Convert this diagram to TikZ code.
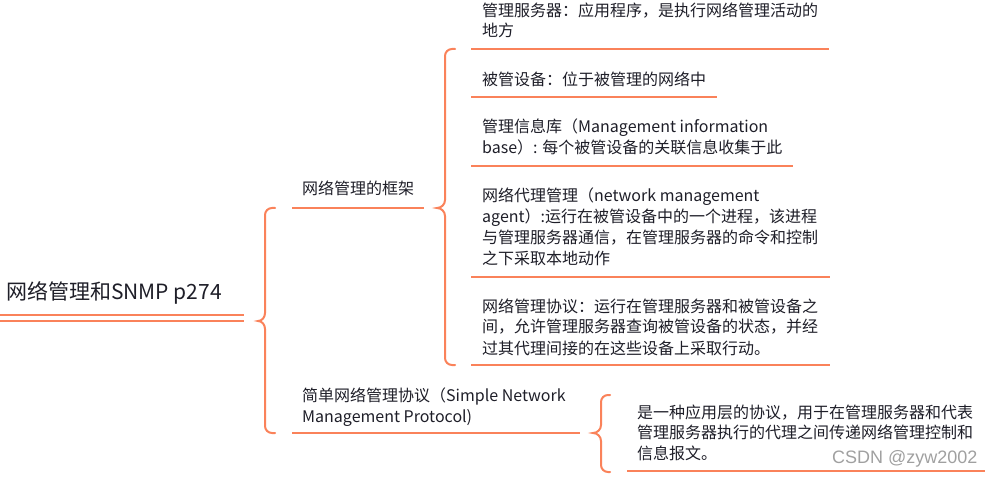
\documentclass[tikz,border=0pt]{standalone}
\usepackage{fontspec}
\setmainfont{Noto Sans CJK SC}
\newfontfamily\wmfont{Liberation Sans}
\definecolor{coral}{RGB}{250,130,90}
\definecolor{txt}{RGB}{30,30,40}
\begin{document}
\begin{tikzpicture}[x=1pt,y=-1pt,
  ln/.style={draw=coral,line width=2pt},
  br/.style={draw=coral,line width=2pt,line cap=round},
  lbl/.style={inner sep=0pt,anchor=base west,align=left,text=txt,font=\fontsize{16}{21}\selectfont},
  rootlbl/.style={inner sep=0pt,anchor=base west,text=txt,font=\fontsize{21}{24}\selectfont}]
\useasboundingbox (0,0) rectangle (996,478);
% root
\node[rootlbl] (root) at (6,300) {网络管理和SNMP p274};
\coordinate (rootA) at (0,315); \coordinate (rootB) at (244,315);
\coordinate (rootC) at (0,321); \coordinate (rootD) at (244,321);
\draw[ln] (rootA) -- (rootB);
\draw[ln] (rootC) -- (rootD);
% brace 1
\coordinate (b1) at (258,321);
\draw[br] (275,208) -- (272,208) to[out=180,in=90] (265,215) -- (265,313) to[out=-90,in=0] (b1) to[out=0,in=90] (265,329) -- (265,426) to[out=-90,in=180] (272,433) -- (275,433);
% child 1
\node[lbl] (c1) at (302,195) {网络管理的框架};
\coordinate (c1a) at (292,208); \coordinate (c1b) at (424,208);
\draw[ln] (c1a) -- (c1b);
% brace 2
\coordinate (b2) at (437,208);
\draw[br] (455,49) -- (452,49) to[out=180,in=90] (445,56) -- (445,200) to[out=-90,in=0] (b2) to[out=0,in=90] (445,216) -- (445,358) to[out=-90,in=180] (452,365) -- (455,365);
% leaves (multi-line nodes: base = last line)
\node[lbl,font=\fontsize{16}{20}\selectfont] (l1) at (482,37) {管理服务器：应用程序，是执行网络管理活动的\\地方};
\coordinate (l1a) at (471,49); \coordinate (l1b) at (829,49);
\draw[ln] (l1a) -- (l1b);
\node[lbl] (l2) at (482,86) {被管设备：位于被管理的网络中};
\coordinate (l2a) at (471,97); \coordinate (l2b) at (717,97);
\draw[ln] (l2a) -- (l2b);
\node[lbl] (l3) at (482,154) {管理信息库（Management information\\base）: 每个被管设备的关联信息收集于此};
\coordinate (l3a) at (471,166); \coordinate (l3b) at (793,166);
\draw[ln] (l3a) -- (l3b);
\node[lbl] (l4) at (482,265) {网络代理管理（network management\\agent）:运行在被管设备中的一个进程，该进程\\与管理服务器通信，在管理服务器的命令和控制\\之下采取本地动作};
\coordinate (l4a) at (471,277); \coordinate (l4b) at (830,277);
\draw[ln] (l4a) -- (l4b);
\node[lbl] (l5) at (482,354) {网络管理协议：运行在管理服务器和被管设备之\\间，允许管理服务器查询被管设备的状态，并经\\过其代理间接的在这些设备上采取行动。};
\coordinate (l5a) at (471,365); \coordinate (l5b) at (830,365);
\draw[ln] (l5a) -- (l5b);
% child 2
\node[lbl,font=\fontsize{16}{21}\selectfont] (c2) at (302,422) {简单网络管理协议（Simple Network\\Management Protocol)};
\coordinate (c2a) at (292,433); \coordinate (c2b) at (580,433);
\draw[ln] (c2a) -- (c2b);
% brace 3
\coordinate (b3) at (593,433);
\draw[br] (610,395) -- (608,395) to[out=180,in=90] (601,402) -- (601,425) to[out=-90,in=0] (b3) to[out=0,in=90] (601,441) -- (601,465) to[out=-90,in=180] (608,472) -- (610,472);
\node[lbl,font=\fontsize{16}{20.5}\selectfont] (l6) at (637,459) {是一种应用层的协议，用于在管理服务器和代表\\管理服务器执行的代理之间传递网络管理控制和\\信息报文。};
\coordinate (l6a) at (627,471); \coordinate (l6b) at (985,471);
\draw[ln] (l6a) -- (l6b);
% watermark
\node[inner sep=0pt,anchor=base west,text={rgb,255:red,160;green,160;blue,160},font=\wmfont\fontsize{18}{20}\selectfont] (wm) at (832,463) {CSDN @zyw2002};
\end{tikzpicture}
\end{document}
